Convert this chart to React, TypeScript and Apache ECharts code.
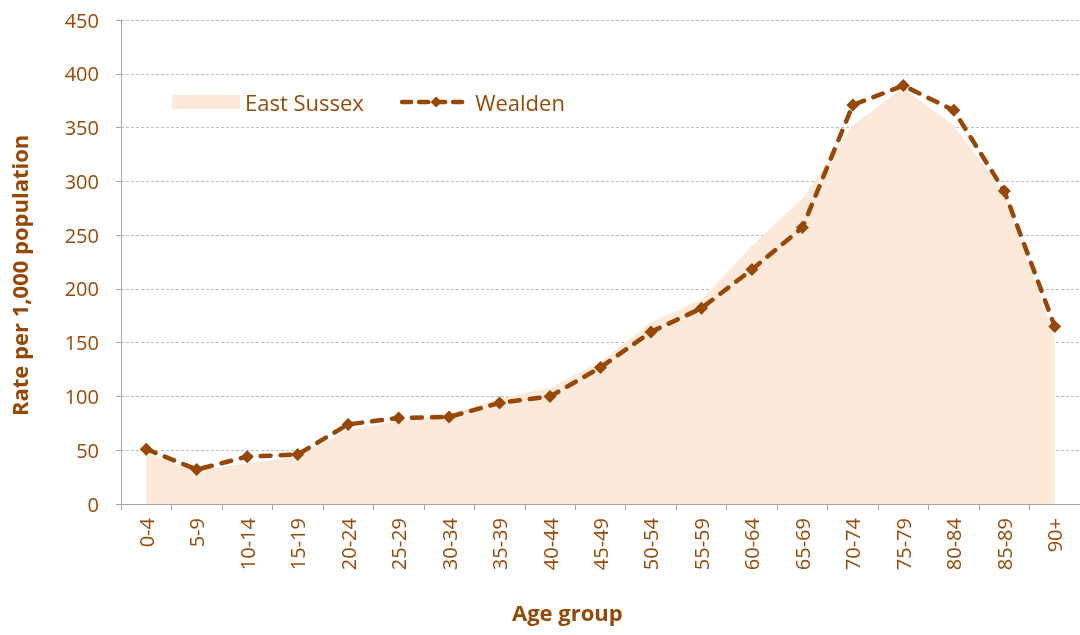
import React, { useEffect, useRef } from "react";
import * as echarts from "echarts";

const categories = ["0-4", "5-9", "10-14", "15-19", "20-24", "25-29", "30-34", "35-39", "40-44", "45-49", "50-54", "55-59", "60-64", "65-69", "70-74", "75-79", "80-84", "85-89", "90+"];
const eastSussex = [47, 31, 38, 44, 69, 77, 83, 98, 108, 132, 169, 190, 240, 284, 352, 387, 352, 289, 155];
const wealden = [51, 32, 44, 46, 74, 80, 81, 94, 100, 127, 160, 182, 218, 257, 371, 389, 366, 291, 165];
const yTicks = { min: 0, max: 450, interval: 50 };

const BROWN = "#974706";
const TEXT = "#9A4A08";
const AREA = "#FDE9D9";
const FONT = "'Open Sans', 'Noto Sans', sans-serif";

export default function App() {
  const ref = useRef<HTMLDivElement>(null);
  useEffect(() => {
    if (!ref.current) return;
    const chart = echarts.init(ref.current, undefined, { renderer: "svg" });
    chart.setOption({
      animation: false,
      textStyle: { fontFamily: FONT },
      grid: { left: 121, right: -6, top: 20, bottom: 131, containLabel: false },
      legend: {
        left: 167,
        top: 86,
        itemWidth: 68,
        itemHeight: 14,
        itemGap: 36,
        textStyle: { color: TEXT, fontSize: 22, fontFamily: FONT },
        data: [
          { name: "East Sussex", icon: "rect", itemStyle: { color: AREA } },
          { name: "Wealden", lineStyle: { width: 4.5, type: [9, 8], cap: "round", color: BROWN } },
        ],
      },
      xAxis: {
        type: "category",
        data: categories,
        boundaryGap: true,
        axisLine: { lineStyle: { color: "#A6A6A6", width: 1 } },
        axisTick: { show: true, length: 6, lineStyle: { color: "#A6A6A6" } },
        axisLabel: { rotate: 90, margin: 14, color: TEXT, fontSize: 20, fontFamily: FONT, interval: 0 },
        splitLine: { show: false },
      },
      yAxis: {
        type: "value",
        min: yTicks.min,
        max: yTicks.max,
        interval: yTicks.interval,
        axisLine: { show: true, lineStyle: { color: "#A6A6A6", width: 1 } },
        axisTick: { show: true, length: 5, lineStyle: { color: "#A6A6A6" } },
        axisLabel: { margin: 22, color: TEXT, fontSize: 20, fontFamily: FONT },
        splitLine: { show: true, lineStyle: { color: "#BFBFBF", type: [3, 2], width: 1 } },
      },
      graphic: [
        {
          type: "text",
          left: 512,
          top: 601,
          style: { text: "Age group", fill: BROWN, font: `bold 22px ${FONT}` },
        },
        {
          type: "text",
          x: 8,
          y: 416,
          rotation: Math.PI / 2,
          style: { text: "Rate per 1,000 population", fill: BROWN, font: `bold 22px ${FONT}`, textVerticalAlign: "top" },
        },
      ],
      series: [
        {
          name: "East Sussex",
          type: "line",
          data: eastSussex,
          symbol: "none",
          lineStyle: { width: 0, color: AREA },
          itemStyle: { color: AREA },
          areaStyle: { color: AREA, opacity: 1 },
          z: 1,
        },
        {
          name: "Wealden",
          type: "line",
          data: wealden,
          symbol: "diamond",
          symbolSize: 13,
          itemStyle: { color: BROWN },
          lineStyle: { color: BROWN, width: 4.5, type: [10, 10], cap: "round" },
          z: 3,
        },
      ],
    });
    return () => chart.dispose();
  }, []);
  return <div ref={ref} style={{ position: "fixed", left: 0, top: 0, width: 1080, height: 635 }} />;
}
